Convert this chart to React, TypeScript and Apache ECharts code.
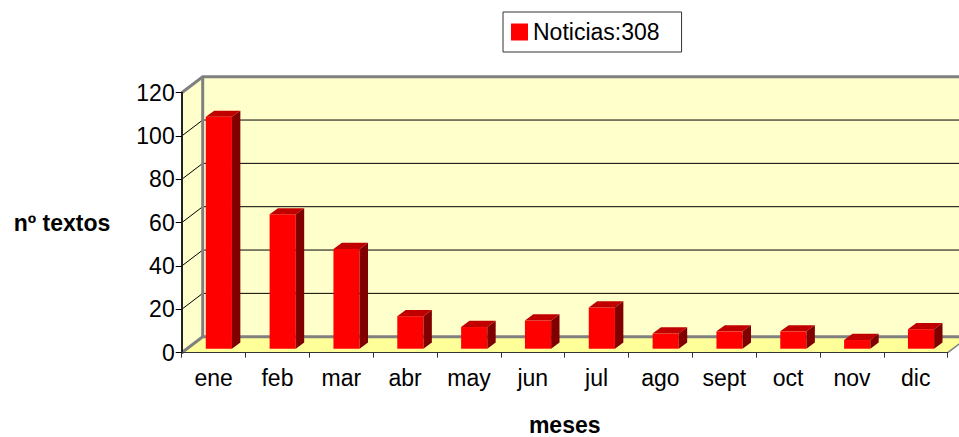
import React, { useEffect, useRef } from "react";
import * as echarts from "echarts";

const months = ["ene", "feb", "mar", "abr", "may", "jun", "jul", "ago", "sept", "oct", "nov", "dic"];
const noticias = [107, 62, 46, 15, 10, 13, 19, 7, 8, 8, 4, 9];
const yTicks = [0, 20, 40, 60, 80, 100, 120];
const seriesName = "Noticias:308";
const yTitle = "nº textos";
const xTitle = "meses";

const DX = 21;
const DY = -16;
const FONT = '"Liberation Sans", Arial, sans-serif';
const FS = 23;

export default function App() {
  const ref = useRef<HTMLDivElement>(null);

  useEffect(() => {
    if (!ref.current) return;
    const chart = echarts.init(ref.current, null, { renderer: "svg", width: 959, height: 437 });

    const wallsRender = (params: any, api: any) => {
      const cs = params.coordSys;
      const L = cs.x, T = cs.y, R = cs.x + cs.width, B = cs.y + cs.height;
      const children: any[] = [];
      children.push({ type: "rect", shape: { x: L + DX, y: T + DY, width: R - L, height: B - T }, style: { fill: "#FFFFCC" } });
      children.push({ type: "polygon", shape: { points: [[L, B], [L, T], [L + DX, T + DY], [L + DX, B + DY]] }, style: { fill: "#FFFFCC" } });
      children.push({ type: "polygon", shape: { points: [[L, B], [R, B], [R + DX, B + DY], [L + DX, B + DY]] }, style: { fill: "#FFFF99" } });
      yTicks.slice(1, -1).forEach((v) => {
        const y = api.coord([0, v])[1];
        children.push({ type: "polyline", shape: { points: [[L, y], [L + DX, y + DY], [R + DX, y + DY]] }, style: { stroke: "#000", lineWidth: 1, fill: "none" } });
      });
      const gray = { stroke: "#808080", lineWidth: 3, fill: "none" };
      children.push({ type: "polyline", shape: { points: [[L, T], [L + DX, T + DY], [R + DX, T + DY]] }, style: gray });
      children.push({ type: "line", shape: { x1: L + DX, y1: T + DY, x2: L + DX, y2: B + DY }, style: gray });
      children.push({ type: "polyline", shape: { points: [[L, B], [L + DX, B + DY], [R + DX, B + DY]] }, style: gray });
      children.push({ type: "line", shape: { x1: R, y1: B, x2: R + DX, y2: B + DY }, style: { stroke: "#808080", lineWidth: 1.5 } });
      return { type: "group", children };
    };

    const barRender = (params: any, api: any) => {
      const idx = api.value(0);
      const val = api.value(1);
      const top = api.coord([idx, val]);
      const base = api.coord([idx, 0]);
      const band = api.size([1, 0])[0];
      const w = band * 0.41;
      const fdx = 5.25, fdy = -4;
      const bdx = 8.4, bdy = -6.2;
      const fl = top[0] - w / 2 + fdx;
      const fr = fl + w;
      const ft = top[1] + fdy;
      const fb = base[1] + fdy;
      return {
        type: "group",
        children: [
          { type: "rect", shape: { x: fl, y: ft, width: w, height: fb - ft }, style: { fill: "#FF0000" } },
          { type: "polygon", shape: { points: [[fl, ft], [fr, ft], [fr + bdx, ft + bdy], [fl + bdx, ft + bdy]] }, style: { fill: "#C00000" } },
          { type: "polygon", shape: { points: [[fr, ft], [fr + bdx, ft + bdy], [fr + bdx, fb + bdy], [fr, fb]] }, style: { fill: "#800000" } },
        ],
      };
    };

    chart.setOption({
      animation: false,
      backgroundColor: "#ffffff",
      textStyle: { fontFamily: FONT },
      legend: {
        data: [{ name: seriesName, icon: "rect" }],
        left: 503,
        top: 12,
        orient: "horizontal",
        selectedMode: false,
        borderColor: "#333",
        borderWidth: 1,
        padding: [8.5, 22, 8.5, 8],
        itemWidth: 17,
        itemHeight: 17,
        textStyle: { fontFamily: FONT, fontSize: FS, color: "#000" },
      },
      grid: { left: 181.7, right: 11.3, top: 92.7, bottom: 84.3, containLabel: false, outerBoundsMode: "none" },
      xAxis: {
        type: "category",
        data: months,
        z: 5,
        name: xTitle,
        nameLocation: "middle",
        nameGap: 72,
        nameTextStyle: { fontFamily: FONT, fontSize: FS, fontWeight: "bold", color: "#000", align: "center", verticalAlign: "middle" },
        axisLine: { show: true, lineStyle: { color: "#333", width: 1 } },
        axisTick: { show: true, length: 5, lineStyle: { color: "#333" } },
        axisLabel: { margin: 14, fontFamily: FONT, fontSize: FS, color: "#000" },
        splitLine: { show: false },
      },
      yAxis: {
        type: "value",
        min: 0,
        max: 120,
        interval: 20,
        z: 5,
        name: yTitle,
        nameLocation: "middle",
        nameRotate: 0,
        nameGap: 119.7,
        nameTextStyle: { fontFamily: FONT, fontSize: FS, fontWeight: "bold", color: "#000", align: "center", verticalAlign: "middle" },
        axisLine: { show: true, lineStyle: { color: "#222", width: 2 } },
        axisTick: { show: true, length: 6, lineStyle: { color: "#000" } },
        axisLabel: { margin: 7, fontFamily: FONT, fontSize: FS, color: "#000" },
        splitLine: { show: false },
      },
      series: [
        {
          type: "custom",
          name: "walls",
          z: 1,
          clip: false,
          silent: true,
          renderItem: wallsRender,
          data: [[0, 0]],
        },
        {
          type: "custom",
          name: seriesName,
          z: 10,
          clip: false,
          itemStyle: { color: "#FF0000" },
          renderItem: barRender,
          encode: { x: 0, y: 1 },
          data: noticias.map((v, i) => [i, v]),
        },
      ],
    });

    return () => chart.dispose();
  }, []);

  return <div ref={ref} style={{ position: "fixed", left: 0, top: 0, width: 959, height: 437 }} />;
}
